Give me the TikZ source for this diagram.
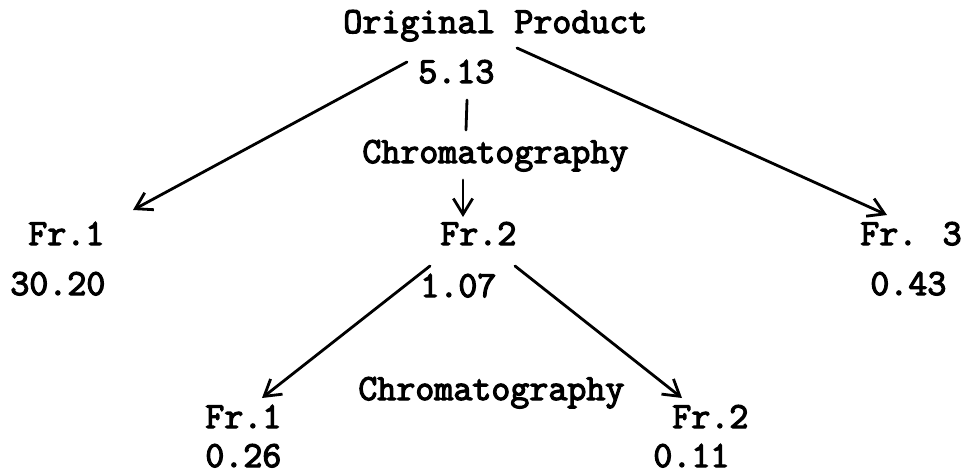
\documentclass[tikz,border=0pt]{standalone}
\usepackage{fontspec}
\usepackage{tikz}
\usetikzlibrary{arrows.meta}
% heavier typewriter strokes
\newcommand{\typed}[1]{\special{pdf:literal direct 2 Tr 0.7 w}#1\special{pdf:literal direct 0 Tr}}

\begin{document}
\begin{tikzpicture}[x=0.02cm,y=-0.02cm,
	lbl/.style={anchor=base west,inner sep=0pt,font=\ttfamily\fontsize{21}{24}\selectfont},
	flow/.style={line width=1.6pt,line cap=round},
	flowarr/.style={flow,-{Straight Barb[length=9pt,width=11pt,line width=1.6pt]}}]
	\useasboundingbox (0,0) rectangle (966,473);
	% draw texts
	\node[lbl] (orig) at (343,33) {\typed{Original Product}};
	\node[lbl] (origval) at (418,83) {\typed{5.13}};
	\node[lbl] (chromA) at (362,163) {\typed{Chromatography}};
	\node[lbl] (frA) at (28,245) {\typed{Fr.1}};
	\node[lbl] (frAval) at (10,295) {\typed{30.20}};
	\node[lbl] (frB) at (440,245) {\typed{Fr.2}};
	\node[lbl] (frBval) at (420,297) {\typed{1.07}};
	\node[lbl] (frC) at (860,245) {\typed{Fr. 3}};
	\node[lbl] (frCval) at (870,295) {\typed{0.43}};
	\node[lbl] (chromB) at (358,400) {\typed{Chromatography}};
	\node[lbl] (subA) at (205,428) {\typed{Fr.1}};
	\node[lbl] (subAval) at (205,467) {\typed{0.26}};
	\node[lbl] (subB) at (672,428) {\typed{Fr.2}};
	\node[lbl] (subBval) at (653,467) {\typed{0.11}};
	% connector ends
	\coordinate (leftstart) at (407,62);
	\coordinate (leftend) at (133,210);
	\coordinate (rightstart) at (517,48);
	\coordinate (rightend) at (887,215);
	\coordinate (stemtop) at (467,100);
	\coordinate (stembot) at (466,130);
	\coordinate (downtop) at (463,180);
	\coordinate (downend) at (463,217);
	\coordinate (subleftstart) at (430,266);
	\coordinate (subleftend) at (262,398);
	\coordinate (subrightstart) at (515,266);
	\coordinate (subrightend) at (682,398);
	% draw connectors
	\draw[flowarr] (leftstart) -- (leftend);
	\draw[flowarr] (rightstart) -- (rightend);
	\draw[flow] (stemtop) -- (stembot);
	\draw[flowarr] (downtop) -- (downend);
	\draw[flowarr] (subleftstart) -- (subleftend);
	\draw[flowarr] (subrightstart) -- (subrightend);
\end{tikzpicture}
\end{document}
